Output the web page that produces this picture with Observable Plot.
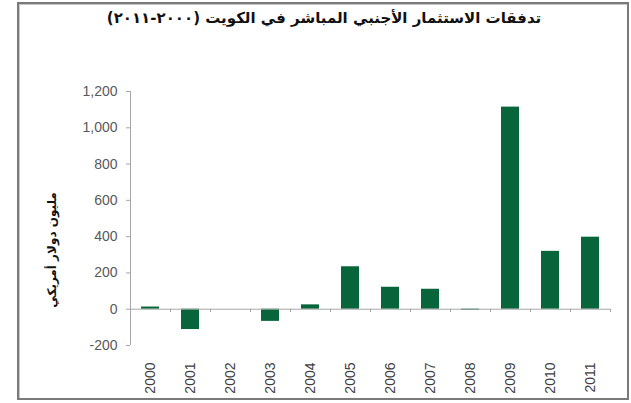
<!DOCTYPE html>
<html><head><meta charset="utf-8">
<script src="https://cdn.jsdelivr.net/npm/d3@7"></script>
<script src="https://cdn.jsdelivr.net/npm/@observablehq/plot@0.6"></script>
<style>
body{margin:0;background:#fff;}
#wrap{position:relative;width:631px;height:403px;overflow:hidden;background:#fff;}
#frame{position:absolute;left:17px;top:2px;width:608px;height:394px;border:2px solid #7a7a7a;box-shadow:inset 1px 1px 0 #c8c8c8;}
#title{position:absolute;left:0;width:648px;top:9px;text-align:center;font:bold 15px "DejaVu Sans",sans-serif;direction:rtl;color:#111;}
#ylabel{position:absolute;left:-45px;top:240px;width:200px;height:20px;line-height:20px;text-align:center;font:bold 12px "DejaVu Sans",sans-serif;direction:rtl;transform:rotate(-90deg);color:#111;}
#chart{position:absolute;left:0;top:0;}
</style>
</head><body>
<div id="wrap">
  <div id="frame"></div>
  <div id="chart"></div>
  <div id="title"></div>
  <div id="ylabel"></div>
</div>
<script>
const titleText = "تدفقات الاستثمار الأجنبي المباشر في الكويت (٢٠٠٠-٢٠١١)";
const yLabelText = "مليون دولار أمريكي";
const years = ["2000","2001","2002","2003","2004","2005","2006","2007","2008","2009","2010","2011"];
const values = [12, -112, 0, -67, 24, 234, 121, 110, -6, 1114, 319, 397];
const yTicks = [-200, 0, 200, 400, 600, 800, 1000, 1200];

document.getElementById("title").textContent = titleText;
document.getElementById("ylabel").textContent = yLabelText;

const data = years.map((y, i) => ({year: y, value: values[i]}));
const axisGray = "#a6a6a6";
const fmt = d3.format(",");

const chart = Plot.plot({
  width: 631,
  height: 403,
  marginLeft: 130,
  marginRight: 21,
  marginTop: 91,
  marginBottom: 58,
  style: {fontFamily: "'Liberation Sans', Arial, sans-serif", background: "transparent"},
  x: {domain: years, paddingInner: 0.56, paddingOuter: 0.28, axis: null},
  y: {domain: [-200, 1200], axis: null},
  marks: [
    Plot.barY(data, {x: "year", y: "value", fill: "#08643a"}),
    Plot.ruleY([0], {stroke: axisGray}),
    Plot.ruleX(years.slice(0, 1), {x: d => d, dx: -20, y1: -200, y2: 1200, stroke: axisGray}),
    Plot.ruleX(years, {x: d => d, dx: 20, y1: 0, y2: -18, stroke: axisGray}),
    Plot.axisY(yTicks, {anchor: "left", tickSize: 4, tickPadding: 9, tickFormat: d => fmt(d).replace("\u2212", "-"), fontSize: 14, stroke: axisGray, fill: "#595959", label: null}),
    Plot.axisX({anchor: "bottom", tickRotate: -90, tickSize: 0, tickPadding: 17, fontSize: 14, fill: "#404040", label: null})
  ]
});
document.getElementById("chart").appendChild(chart);
</script>
</body></html>
